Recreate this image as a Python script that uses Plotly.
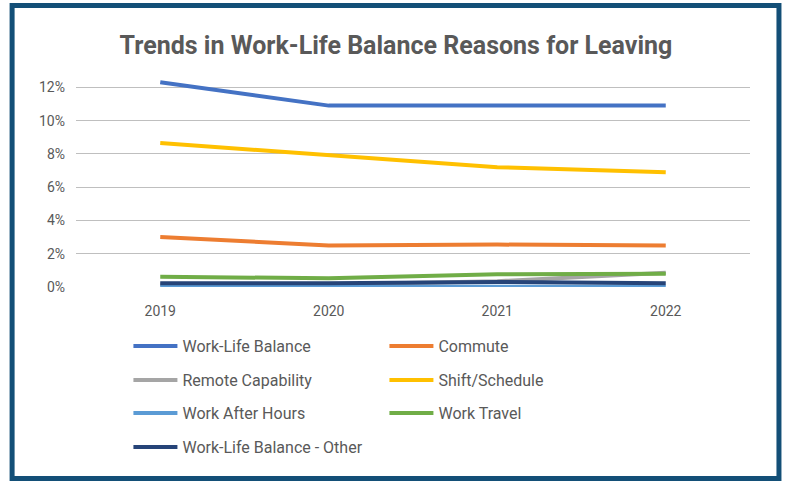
import plotly.graph_objects as go

years = ["2019", "2020", "2021", "2022"]
work_life_balance = [0.123, 0.109, 0.109, 0.109]
commute = [0.030, 0.025, 0.0255, 0.025]
remote_capability = [0.0015, 0.0015, 0.0035, 0.0085]
shift_schedule = [0.0865, 0.079, 0.072, 0.069]
work_after_hours = [0.0002, 0.0002, 0.0005, 0.0002]
work_travel = [0.0062, 0.0052, 0.0076, 0.0080]
wlb_other = [0.0022, 0.0022, 0.0030, 0.0022]

series = [
    ("Work-Life Balance", work_life_balance, "#4472C4", "legend"),
    ("Commute", commute, "#ED7D31", "legend"),
    ("Remote Capability", remote_capability, "#A5A5A5", "legend2"),
    ("Shift/Schedule", shift_schedule, "#FFC000", "legend2"),
    ("Work After Hours", work_after_hours, "#5B9BD5", "legend3"),
    ("Work Travel", work_travel, "#70AD47", "legend3"),
    ("Work-Life Balance - Other", wlb_other, "#264478", "legend4"),
]

W, H = 786, 481
ML, MR, MT, MB = 75.5, 35.5, 79, 194
PW, PH = W - ML - MR, H - MT - MB

def px_x(p):
    return (p - ML) / PW

def px_y(p):
    return (H - MB - p) / PH

fig = go.Figure()
for name, vals, color, leg in series:
    fig.add_trace(go.Scatter(
        x=years, y=vals, name=name, mode="lines",
        line=dict(color=color, width=4),
        legend=leg, hoverinfo="skip",
    ))

font_color = "#595959"
legend_common = dict(
    orientation="h", xanchor="left", yanchor="middle",
    entrywidth=197, entrywidthmode="pixels",
    font=dict(family="Roboto", size=16, color=font_color),
    bgcolor="rgba(0,0,0,0)", itemwidth=44,
)
rows = [346, 380, 413, 447]
legx = px_x(128)

fig.update_layout(
    width=W, height=H,
    margin=dict(l=ML, r=MR, t=MT, b=MB),
    paper_bgcolor="white", plot_bgcolor="white",
    title=dict(
        text="<b>Trends in Work-Life Balance Reasons for Leaving</b>",
        x=396 / W, xref="container", xanchor="center",
        y=1 - 45 / H, yref="container", yanchor="middle",
        font=dict(family="Roboto", size=25, color=font_color),
    ),
    xaxis=dict(
        type="category", range=[-0.5, 3.5], showgrid=False, zeroline=False,
        showline=False, ticks="", ticklabelstandoff=14,
        tickfont=dict(family="Roboto", size=14, color=font_color),
    ),
    yaxis=dict(
        range=[0, 0.125], dtick=0.02, tick0=0, tickformat=".0%",
        showgrid=True, gridcolor="#BFBFBF", gridwidth=1.2,
        zeroline=False, showline=False, ticks="", ticklabelstandoff=10,
        tickfont=dict(family="Roboto", size=14, color=font_color),
    ),
    legend=dict(x=legx, y=px_y(rows[0]), **legend_common),
    legend2=dict(x=legx, y=px_y(rows[1]), **legend_common),
    legend3=dict(x=legx, y=px_y(rows[2]), **legend_common),
    legend4=dict(x=legx, y=px_y(rows[3]), **legend_common),
    shapes=[dict(
        type="rect", xref="paper", yref="paper",
        x0=px_x(11.5), x1=px_x(779.5), y0=px_y(478.5), y1=px_y(5.5),
        line=dict(color="#134F77", width=5), fillcolor="rgba(0,0,0,0)",
        layer="above",
    )],
)

fig.write_html(
    "out.html",
    config={"displayModeBar": False},
    post_script=(
        "document.body.style.margin='0';"
        "document.body.style.overflow='hidden';"
        "document.documentElement.style.overflow='hidden';"
    ),
)
